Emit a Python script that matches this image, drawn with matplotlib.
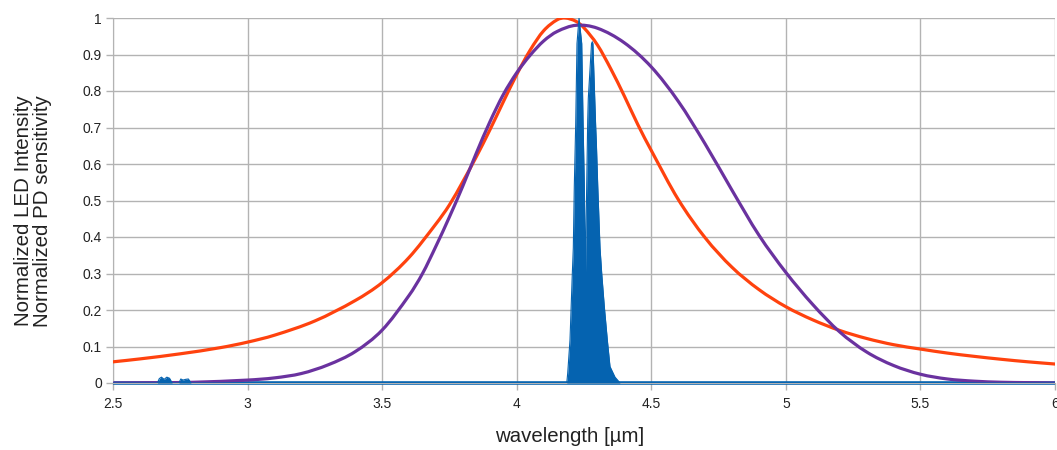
import matplotlib
matplotlib.use("Agg")
import matplotlib.pyplot as plt
from matplotlib.ticker import FuncFormatter
from matplotlib.path import Path
from matplotlib.patches import PathPatch

plt.rcParams['font.family'] = ['Liberation Sans', 'DejaVu Sans']

# PD sensitivity (orange)
pd_x = [2.5, 2.6, 2.75, 2.9, 3.0, 3.1, 3.25, 3.4, 3.5, 3.6, 3.7, 3.75, 3.8, 3.85, 3.9, 3.95,
        4.0, 4.05, 4.1, 4.15, 4.18, 4.22, 4.25, 4.3, 4.35, 4.4, 4.45, 4.5, 4.6, 4.7, 4.8, 4.9,
        5.0, 5.1, 5.2, 5.3, 5.4, 5.5, 5.6, 5.7, 5.8, 5.9, 6.0]
pd_y = [0.058, 0.066, 0.080, 0.097, 0.112, 0.131, 0.170, 0.226, 0.275, 0.344, 0.436, 0.488, 0.552, 0.620, 0.693, 0.770,
        0.845, 0.912, 0.965, 0.995, 1.000, 0.991, 0.973, 0.926, 0.860, 0.786, 0.708, 0.637, 0.503, 0.398, 0.317, 0.256,
        0.209, 0.173, 0.144, 0.122, 0.105, 0.093, 0.082, 0.073, 0.065, 0.058, 0.052]

# LED intensity envelope (purple)
led_x = [2.5, 2.7, 2.8, 3.0, 3.1, 3.2, 3.3, 3.4, 3.5, 3.6, 3.65, 3.7, 3.75, 3.8, 3.85, 3.9, 3.95,
         4.0, 4.05, 4.1, 4.15, 4.22, 4.3, 4.4, 4.5, 4.6, 4.7, 4.8, 4.9, 5.0, 5.1, 5.2, 5.3,
         5.4, 5.5, 5.6, 5.7, 5.8, 5.9, 6.0]
led_y = [0.0, 0.001, 0.002, 0.008, 0.014, 0.026, 0.050, 0.086, 0.145, 0.240, 0.300, 0.375, 0.455, 0.540, 0.630, 0.715, 0.790,
         0.850, 0.898, 0.937, 0.963, 0.980, 0.972, 0.932, 0.866, 0.772, 0.655, 0.528, 0.405, 0.303, 0.215, 0.140, 0.085,
         0.048, 0.024, 0.011, 0.005, 0.002, 0.001, 0.0]

spec_x = [2.5, 2.665, 2.672, 2.68, 2.69, 2.70, 2.71, 2.72, 2.745, 2.752, 2.76, 2.77, 2.78, 2.79,
          4.186, 4.1895, 4.198, 4.2066, 4.2103, 4.214, 4.2192, 4.224, 4.2315, 4.2415, 4.2463,
          4.2512, 4.2538, 4.2555, 4.2564, 4.260, 4.2638, 4.266, 4.278, 4.2809, 4.283, 4.2935,
          4.2958, 4.301, 4.3095, 4.3158, 4.3254, 4.3366, 4.3466, 4.3652, 4.384, 6.0]
spec_y = [0.0, 0.0, 0.012, 0.016, 0.010, 0.016, 0.013, 0.0, 0.0, 0.011, 0.008, 0.010, 0.011, 0.0,
          0.0, 0.027, 0.118, 0.30, 0.37, 0.54, 0.71, 0.93, 1.00, 0.93, 0.72,
          0.54, 0.37, 0.296, 0.37, 0.54, 0.72, 0.78, 0.93, 0.935, 0.93, 0.70,
          0.66, 0.54, 0.37, 0.30, 0.21, 0.118, 0.045, 0.016, 0.0, 0.0]

x_ticks = [2.5, 3, 3.5, 4, 4.5, 5, 5.5, 6]
y_ticks = [0, 0.1, 0.2, 0.3, 0.4, 0.5, 0.6, 0.7, 0.8, 0.9, 1]


def smooth_path(xs, ys):
    """Cubic Hermite (Bezier) path through the given data points."""
    n = len(xs)
    slopes = []
    for i in range(n):
        if i == 0:
            s = (ys[1] - ys[0]) / (xs[1] - xs[0])
        elif i == n - 1:
            s = (ys[-1] - ys[-2]) / (xs[-1] - xs[-2])
        else:
            s = (ys[i + 1] - ys[i - 1]) / (xs[i + 1] - xs[i - 1])
        slopes.append(s)
    verts = [(xs[0], ys[0])]
    codes = [Path.MOVETO]
    for i in range(n - 1):
        h = xs[i + 1] - xs[i]
        verts += [(xs[i] + h / 3, ys[i] + slopes[i] * h / 3),
                  (xs[i + 1] - h / 3, ys[i + 1] - slopes[i + 1] * h / 3),
                  (xs[i + 1], ys[i + 1])]
        codes += [Path.CURVE4] * 3
    return Path(verts, codes)


W, H = 1057, 450
fig = plt.figure(figsize=(W / 100, H / 100), dpi=100)
ax = fig.add_axes([113 / W, 1 - 383 / H, (1055 - 113) / W, (383 - 18) / H])

grid_c = '#b3b3b3'
blue = '#0563b0'
ax.plot([spec_x[0], spec_x[-1]], [0, 0], color=blue, lw=2.6, zorder=2,
        solid_capstyle='butt', clip_on=False)
ax.fill_between(spec_x, 0, spec_y, color=blue, lw=0, zorder=5)
ax.plot(spec_x, spec_y, color=blue, lw=0.8, zorder=5)
ax.add_patch(PathPatch(smooth_path(pd_x, pd_y), fill=False, edgecolor='#ff420e',
                       lw=2.3, zorder=4, capstyle='round', joinstyle='round'))
ax.add_patch(PathPatch(smooth_path(led_x, led_y), fill=False, edgecolor='#6a329f',
                       lw=2.3, zorder=4, capstyle='round', joinstyle='round'))

ax.set_xlim(2.5, 6)
ax.set_ylim(0, 1)
ax.set_xticks(x_ticks)
ax.set_yticks(y_ticks)
fmt = FuncFormatter(lambda v, p: ('%g' % v))
ax.xaxis.set_major_formatter(fmt)
ax.yaxis.set_major_formatter(fmt)
ax.grid(True, color=grid_c, lw=1.0, zorder=0)
ax.set_axisbelow(True)
for s in ['top', 'right']:
    ax.spines[s].set_visible(False)
for s in ['left', 'bottom']:
    ax.spines[s].set_color(grid_c)
ax.tick_params(axis='both', colors=grid_c, length=5, width=1.0, labelcolor='#222222',
               labelsize=10, direction='out')
ax.tick_params(axis='x', pad=5)
ax.tick_params(axis='y', pad=3)

fig.text(570 / W, 1 - 437 / H, 'wavelength [µm]', fontsize=14.7, color='#222222',
         ha='center', va='center')
fig.text(33 / W, 1 - 211 / H, 'Normalized LED Intensity\nNormalized PD sensitivity',
         fontsize=14.8, color='#222222', ha='center', va='center', rotation=90,
         multialignment='center', linespacing=0.95)

fig.savefig('out.png', dpi=100)
